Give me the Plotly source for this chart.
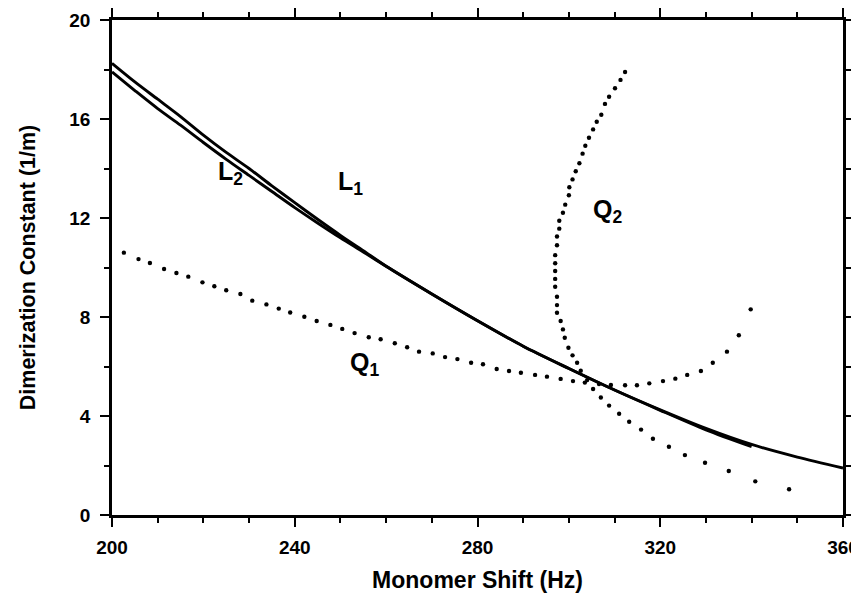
import plotly.graph_objects as go

# ---- data ----
L1_x = [200, 205, 210, 215, 220, 225, 230, 235, 240, 245, 250, 255, 260, 270, 280, 290, 300, 310, 320, 330, 340, 350, 360]
L1_y = [18.25, 17.5, 16.8, 16.1, 15.35, 14.65, 14.0, 13.3, 12.62, 11.95, 11.3, 10.68, 10.05, 8.93, 7.85, 6.82, 5.92, 5.05, 4.25, 3.5, 2.85, 2.34, 1.9]

L2_x = [200, 205, 210, 215, 220, 225, 230, 235, 240, 245, 250, 255, 260, 270, 280, 290, 300, 310, 320, 330, 340]
L2_y = [17.9, 17.15, 16.42, 15.75, 15.05, 14.37, 13.72, 13.07, 12.42, 11.8, 11.2, 10.63, 10.05, 8.93, 7.85, 6.82, 5.92, 5.05, 4.23, 3.44, 2.76]

Q1_x = [202.6, 205.8, 208.3, 211.4, 214.1, 216.7, 219.8, 222.4, 225.0, 228.1, 230.7, 233.8, 236.5, 239.0,
        242.1, 244.8, 247.8, 250.4, 253.1, 256.2, 258.8, 261.9, 264.6, 267.2, 270.2, 272.9, 275.6, 278.6,
        281.2, 284.2, 286.9, 289.5, 292.6, 295.2, 298.2, 300.9, 303.5, 306.6, 309.2, 312.3, 314.9, 317.6,
        320.6, 323.3, 325.9, 328.9, 331.5, 334.6, 337.2, 339.8]
Q1_y = [10.60, 10.34, 10.18, 9.94, 9.78, 9.63, 9.40, 9.24, 9.08, 8.93, 8.66, 8.51, 8.34, 8.18,
        8.01, 7.84, 7.68, 7.52, 7.35, 7.18, 7.10, 6.94, 6.78, 6.60, 6.53, 6.38, 6.30, 6.15,
        6.09, 5.90, 5.82, 5.75, 5.66, 5.59, 5.50, 5.41, 5.35, 5.29, 5.25, 5.24, 5.24, 5.32,
        5.41, 5.51, 5.66, 5.82, 6.15, 6.60, 7.26, 8.31]

Q2_x = [312.3, 311.3, 310.1, 308.8, 307.9, 307.1, 306.1, 305.3, 304.4, 303.6, 303.0, 302.3, 301.5, 300.8,
        300.1, 300.0, 299.2, 298.7, 297.9, 297.9, 297.4, 297.4, 297.0, 297.0, 297.0, 297.0, 297.0, 297.4,
        297.4, 297.4, 298.2, 298.7, 299.1, 299.9, 300.8, 301.8, 302.6, 304.0, 305.3, 307.0, 308.8, 311.0,
        313.2, 315.8, 318.4, 321.9, 325.4, 329.8, 335.0, 340.8, 348.2]
Q2_y = [17.90, 17.58, 17.24, 16.90, 16.61, 16.17, 15.89, 15.58, 15.24, 14.92, 14.60, 14.21, 13.89, 13.56,
        13.24, 12.92, 12.54, 12.21, 11.89, 11.57, 11.25, 10.90, 10.50, 10.17, 9.86, 9.54, 9.22, 8.82,
        8.48, 8.17, 7.84, 7.50, 7.16, 6.76, 6.45, 6.15, 5.83, 5.45, 5.09, 4.75, 4.42, 4.09,
        3.77, 3.45, 3.08, 2.76, 2.42, 2.11, 1.78, 1.36, 1.04]

labels = ["L<sub>2</sub>", "L<sub>1</sub>", "Q<sub>1</sub>", "Q<sub>2</sub>"]
label_x = [226.0, 252.3, 255.3, 308.5]
label_y = [13.8, 13.4, 6.1, 12.3]

x_ticks = [200, 240, 280, 320, 360]
y_ticks = [0, 4, 8, 12, 16, 20]

FONT = "Liberation Sans, Arial, Helvetica, sans-serif"

fig = go.Figure()
for xs, ys in [(L1_x, L1_y), (L2_x, L2_y)]:
    fig.add_trace(go.Scatter(x=xs, y=ys, mode="lines",
                             line=dict(color="black", width=2.9, shape="spline", smoothing=0.8),
                             showlegend=False, hoverinfo="skip"))
for xs, ys in [(Q1_x, Q1_y), (Q2_x, Q2_y)]:
    fig.add_trace(go.Scatter(x=xs, y=ys, mode="markers",
                             marker=dict(color="black", size=4.4),
                             showlegend=False, hoverinfo="skip"))

for t, xv, yv in zip(labels, label_x, label_y):
    fig.add_annotation(x=xv, y=yv, text=t, showarrow=False,
                       font=dict(family=FONT, size=25, color="black", weight="bold"),
                       xanchor="center", yanchor="middle")

axis_common = dict(showline=True, linecolor="black", linewidth=2.5, mirror="ticks",
                   ticks="outside", tickcolor="black", tickwidth=2, ticklen=9,
                   showgrid=False, zeroline=False, automargin=False,
                   ticklabeloverflow="allow",
                   tickfont=dict(family=FONT, size=19, color="black", weight="bold"))

fig.update_xaxes(range=[200, 360], tickvals=x_ticks, ticktext=[str(v) for v in x_ticks],
                 ticklabelstandoff=4,
                 minor=dict(dtick=10, tick0=200, ticks="outside", ticklen=5, tickwidth=2, tickcolor="black", showgrid=False),
                 title=dict(text="Monomer Shift (Hz)", standoff=20,
                            font=dict(family=FONT, size=23, color="black", weight="bold")),
                 **axis_common)
fig.update_yaxes(range=[0, 20], tickvals=y_ticks, ticktext=[str(v) for v in y_ticks],
                 ticklabelstandoff=6,
                 minor=dict(dtick=2, tick0=0, ticks="outside", ticklen=5, tickwidth=2, tickcolor="black", showgrid=False),
                 title=dict(text="Dimerization Constant (1/m)", standoff=28,
                            font=dict(family=FONT, size=21.5, color="black", weight="bold")),
                 **axis_common)

fig.update_layout(width=859, height=585,
                  margin=dict(l=104, r=24, t=12, b=78),
                  plot_bgcolor="white", paper_bgcolor="white")

fig.write_html("out.html")
